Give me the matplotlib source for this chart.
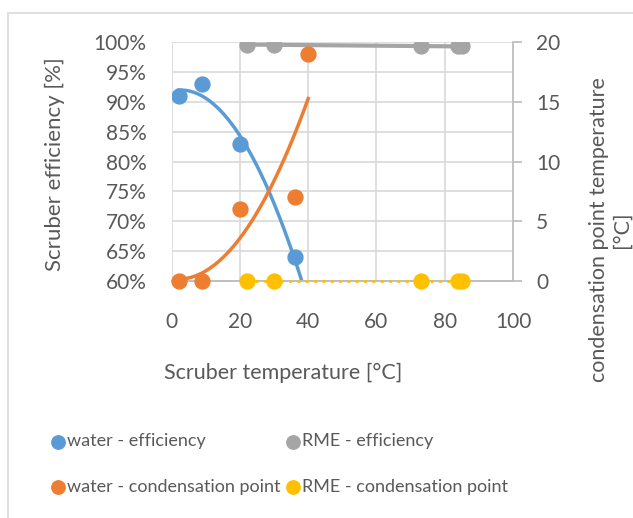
import numpy as np
import matplotlib
matplotlib.use("Agg")
import matplotlib.pyplot as plt
from matplotlib.patches import Rectangle
from matplotlib.ticker import FuncFormatter

plt.rcParams["font.family"] = ["Lato", "DejaVu Sans"]

# Data
water_t = [2, 9, 20, 36, 40]
water_eff = [91, 93, 83, 64]          # no efficiency value at 40
water_cond = [0, 0, 6, 7, 19]

rme_t = [22, 30, 73, 84, 85]
rme_eff = [99.6, 99.6, 99.4, 99.3, 99.3]
rme_cond = [0, 0, 0, 0, 0]

blue = "#5B9BD5"
orange = "#ED7D31"
gray = "#A5A5A5"
yellow = "#FFC000"
txt = "#595959"
grid = "#D9D9D9"

W, H = 633, 518
fig = plt.figure(figsize=(W / 100, H / 100), dpi=100)

# chart area border
fig.add_artist(Rectangle((8 / W, -0.1), 1.2, (H - 13) / H + 0.1,
                         transform=fig.transFigure, fill=False,
                         edgecolor=grid, linewidth=1.2))

left, right, top, bottom = 171.7, 513, 42.3, 281
ax = fig.add_axes([left / W, (H - bottom) / H, (right - left) / W, (bottom - top) / H])
ax2 = ax.twinx()

ax.set_xlim(0, 100)
ax.set_ylim(60, 100)
ax2.set_ylim(0, 20)
ax.set_xticks(range(0, 101, 20))
ax.set_yticks(range(60, 101, 5))
ax2.set_yticks(range(0, 21, 5))
ax.yaxis.set_major_formatter(FuncFormatter(lambda v, p: f"{v:.0f}%"))

ax.grid(True, color=grid, linewidth=1.2)
ax.set_axisbelow(True)
for a in (ax, ax2):
    for s in ("left", "top", "right"):
        a.spines[s].set_visible(False)
    a.spines["bottom"].set_color("#BFBFBF")
    a.spines["bottom"].set_linewidth(1.3)
ax2.spines["right"].set_visible(True)
ax2.spines["right"].set_color("#BFBFBF")
ax2.spines["right"].set_linewidth(1.3)

ax.tick_params(axis="both", length=0, labelsize=15, labelcolor=txt)
ax.tick_params(axis="x", pad=22)
ax.tick_params(axis="y", pad=18)
ax2.tick_params(axis="y", length=6.5, width=1.3, color="#BFBFBF",
                labelsize=15, labelcolor=txt, pad=10)

ms = 115

# water efficiency + polynomial trendline
ax.scatter(water_t[:4], water_eff, s=ms, color=blue, zorder=5, label="water - efficiency")
c = np.polyfit(water_t[:4], water_eff, 2)
xs = np.linspace(min(water_t), max(water_t), 200)
ax.plot(xs, np.polyval(c, xs), color=blue, linewidth=2.5, zorder=4)

# RME efficiency + linear trendline
ax.scatter(rme_t, rme_eff, s=ms, color=gray, zorder=5, label="RME - efficiency")
c = np.polyfit(rme_t, rme_eff, 1)
xs = np.linspace(min(rme_t), max(rme_t), 50)
ax.plot(xs, np.polyval(c, xs), color=gray, linewidth=3, zorder=4)

# water condensation point + polynomial trendline
ax2.scatter(water_t, water_cond, s=ms, color=orange, zorder=5,
            label="water - condensation point", clip_on=False)
c = np.polyfit(water_t, water_cond, 2)
xs = np.linspace(min(water_t), max(water_t), 200)
ax2.plot(xs, np.polyval(c, xs), color=orange, linewidth=2.5, zorder=4)

# RME condensation point + dotted trendline
ax2.scatter(rme_t, rme_cond, s=ms, color=yellow, zorder=5,
            label="RME - condensation point", clip_on=False)
ax2.plot([min(rme_t), max(rme_t)], [0, 0], color=yellow, linewidth=2,
         linestyle=(0, (1, 2)), zorder=4, clip_on=False)

fig.text(55 / W, 1 - 164 / H, "Scruber efficiency [%]", rotation=90,
         ha="center", va="center", fontsize=16, color=txt)
fig.text(283 / W, 1 - 373 / H, "Scruber temperature [°C]",
         ha="center", va="center", fontsize=15.5, color=txt)
fig.text(610 / W, 1 - 230 / H, "condensation point temperature\n[°C]",
         rotation=90, ha="center", va="center", fontsize=15.5, color=txt,
         multialignment="center", linespacing=1.15)

h1, l1 = ax.get_legend_handles_labels()
h2, l2 = ax2.get_legend_handles_labels()
# column-major order so rows read: efficiency, condensation point
handles = [h1[0], h2[0], h1[1], h2[1]]
labels = [l1[0], l2[0], l1[1], l2[1]]
fig.legend(handles, labels, ncol=2, loc="upper left",
           bbox_to_anchor=(36 / W, 1 - 417 / H), frameon=False,
           fontsize=13, labelcolor=txt, handlelength=0.6, handletextpad=0.2,
           columnspacing=0.4, labelspacing=1.65, markerscale=0.9)

fig.savefig("out.png", dpi=100)
